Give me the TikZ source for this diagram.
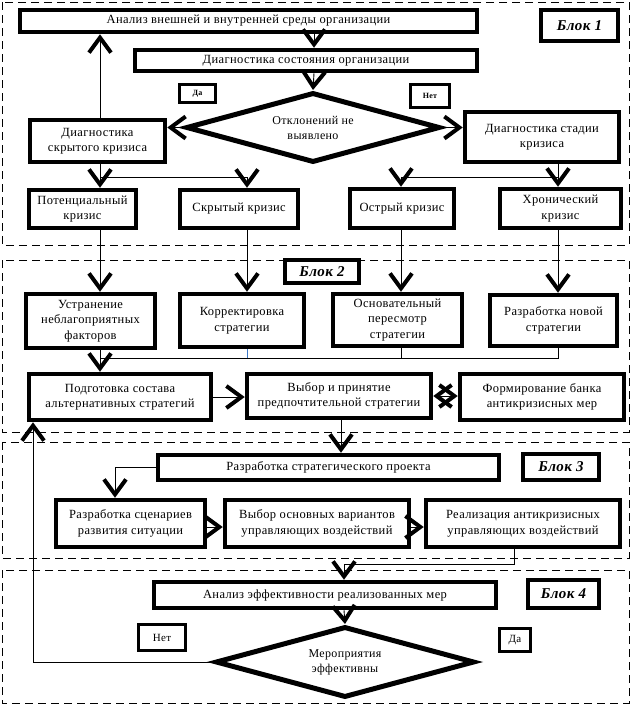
\documentclass[tikz,border=0pt]{standalone}
\usepackage{fontspec}
\setmainfont{Liberation Serif}[LetterSpace=3]
\usetikzlibrary{arrows.meta,shapes.geometric,calc}
\newcommand\fnt{\fontsize{12.5}{15.5}\selectfont}
\newcommand\fdia{\fontsize{12}{15}\selectfont}
\newcommand\fblk{\fontsize{15}{18}\selectfont\bfseries\itshape}
\newcommand\ftiny{\fontsize{8}{9}\selectfont\bfseries}
\newcommand\fsmall{\fontsize{11}{13}\selectfont}
\tikzset{
  box/.style={draw, line width=4.5pt, align=center, inner sep=1pt, font=\fnt},
  blkbox/.style={draw, line width=4.5pt, align=center, inner sep=1pt, font=\fblk},
  tagbox/.style={draw, line width=3.5pt, align=center, inner sep=1pt},
  dia/.style={draw, diamond, aspect=3.5, line width=5pt, align=center, inner sep=0pt, font=\fdia},
  blk/.style={draw, line width=0.8pt, dash pattern=on 8pt off 5pt},
  vtip/.tip={Straight Barb[length=15pt, width=22pt, line width=4pt]},
  arr/.style={line width=0.9pt, -vtip},
  arrboth/.style={line width=0.9pt, vtip-vtip},
  conn/.style={line width=0.9pt},
}
\begin{document}
\begin{tikzpicture}[x=1pt,y=-1pt]
\fill[white] (0,0) rectangle (632,710);
\useasboundingbox (0,0) rectangle (632,710);
% block frames
\draw[blk] (2,2) rectangle (629,245);
\draw[blk] (2,260) rectangle (629,432);
\draw[blk] (2,442) rectangle (629,558);
\draw[blk] (2,570) rectangle (629,703);
% column coordinates
\coordinate (col1) at (100,0);
\coordinate (col2) at (247,0);
\coordinate (col3) at (401,0);
\coordinate (col4) at (558,0);
\coordinate (colM) at (314,0);
\coordinate (col5) at (341,0);
\coordinate (colS) at (115,0);
\coordinate (colR) at (514,0);
\coordinate (colE) at (344,0);
\coordinate (colL) at (33,0);
% Block 1
\node[box, minimum width=457pt, minimum height=22pt] (A) at (248.5,21) {Анализ внешней и внутренней среды организации};
\node[blkbox, minimum width=77pt, minimum height=31pt] (Bl1) at (579.5,25.5) {Блок 1};
\node[box, minimum width=342pt, minimum height=21pt] (B) at (306,60.5) {Диагностика состояния организации};
\node[tagbox, minimum width=36pt, minimum height=18pt, font=\ftiny] (Da1) at (197.5,93.5) {Да};
\node[tagbox, minimum width=39pt, minimum height=23pt, font=\ftiny] (Net1) at (430,96) {Нет};
\node[dia, minimum width=254pt, minimum height=70pt] (D1) at (313,127.5) {Отклонений не\\выявлено};
\node[box, minimum width=135pt, minimum height=42pt] (C) at (97.5,141) {Диагностика\\скрытого кризиса};
\node[box, minimum width=154pt, minimum height=50pt] (D) at (542,137) {Диагностика стадии\\кризиса};
\node[box, minimum width=107pt, minimum height=38pt] (Pot) at (82.5,209) {Потенциальный\\кризис};
\node[box, minimum width=118pt, minimum height=38pt] (Skr) at (239,209) {Скрытый кризис};
\node[box, minimum width=104pt, minimum height=39pt] (Ostr) at (402,208.5) {Острый кризис};
\node[box, minimum width=121pt, minimum height=39pt] (Hron) at (560.5,208.5) {Хронический\\кризис};
% Block 2
\node[blkbox, minimum width=74pt, minimum height=23pt] (Bl2) at (322,271.5) {Блок 2};
\node[box, minimum width=129pt, minimum height=54pt] (Ustr) at (90.5,321) {Устранение\\неблагоприятных\\факторов};
\node[box, minimum width=124pt, minimum height=53pt] (Korr) at (242,320.5) {Корректировка\\стратегии};
\node[box, minimum width=129pt, minimum height=52pt] (Osn) at (397.5,320) {Основательный\\пересмотр\\стратегии};
\node[box, minimum width=127pt, minimum height=51pt] (Nov) at (553.5,320.5) {Разработка новой\\стратегии};
\node[box, minimum width=182pt, minimum height=46pt] (Podg) at (120,397) {Подготовка состава\\альтернативных стратегий};
\node[box, minimum width=184pt, minimum height=44pt] (Vyb) at (339,396) {Выбор и принятие\\предпочтительной стратегии};
\node[box, minimum width=164pt, minimum height=46pt] (Form) at (542,397) {Формирование банка\\антикризисных мер};
% Block 3
\node[box, minimum width=341pt, minimum height=25pt] (Strat) at (328.5,467.5) {Разработка стратегического проекта};
\node[blkbox, minimum width=76pt, minimum height=26pt] (Bl3) at (561,467) {Блок 3};
\node[box, minimum width=149pt, minimum height=47pt] (Scen) at (130.5,523.5) {Разработка сценариев\\развития ситуации};
\node[box, minimum width=184pt, minimum height=47pt] (VybO) at (317,523.5) {Выбор основных вариантов\\управляющих воздействий};
\node[box, minimum width=194pt, minimum height=47pt] (Real) at (523,523.5) {Реализация антикризисных\\управляющих воздействий};
% Block 4
\node[box, minimum width=342pt, minimum height=26pt] (AnEf) at (325,595) {Анализ эффективности реализованных мер};
\node[blkbox, minimum width=71pt, minimum height=28pt] (Bl4) at (563.5,594) {Блок 4};
\node[tagbox, minimum width=47pt, minimum height=26pt, font=\fsmall] (Net2) at (162,637.5) {Нет};
\node[tagbox, minimum width=31pt, minimum height=23pt, font=\fsmall] (Da2) at (515,640) {Да};
\node[dia, minimum width=259pt, minimum height=71pt] (D2) at (345,662) {Мероприятия\\эффективны};
% connectors block 1
\draw[arr] (A.south -| colM) -- (B.north -| colM);
\draw[arr] (B.south -| colM) -- (D1.north);
\draw[arr] (D1.west) -- (C.east |- D1.west);
\draw[arr] (D1.east) -- (D.west |- D1.east);
\draw[arr] (C.north -| col1) -- (A.south -| col1);
\draw[conn] (C.south -| col1) -- ++(0,13) coordinate (c1) -- (c1 -| col2);
\draw[arr] (c1) -- (Pot.north -| col1);
\draw[arr] (c1 -| col2) -- (Skr.north -| col2);
\draw[conn] (D.south -| col4) -- ++(0,13) coordinate (d1) -- (d1 -| col3);
\draw[arr] (d1) -- (Hron.north -| col4);
\draw[arr] (d1 -| col3) -- (Ostr.north -| col3);
% block 1 -> block 2
\draw[arr] (Pot.south -| col1) -- (Ustr.north -| col1);
\draw[arr] (Skr.south -| col2) -- (Korr.north -| col2);
\draw[arr] (Ostr.south -| col3) -- (Osn.north -| col3);
\draw[arr] (Hron.south -| col4) -- (Nov.north -| col4);
% block 2
\draw[arr] (Ustr.south -| col1) -- (Podg.north -| col1);
\draw[conn] (Nov.south -| col4) -- ++(0,10) coordinate (h4) -- (h4 -| col1);
\draw[conn] (Osn.south -| col3) -- (h4 -| col3);
\draw[conn, draw={rgb,255:red,60;green,120;blue,200}] (Korr.south -| col2) -- (h4 -| col2);
\draw[arr] (Podg.east) -- (Vyb.west |- Podg.east);
\draw[arrboth] (Vyb.east) -- (Form.west |- Vyb.east);
\draw[arr] (Vyb.south -| col5) -- (Strat.north -| col5);
% block 3
\draw[arr] (Strat.west) -| (Scen.north -| colS);
\draw[arr] ([yshift=-3.5pt]Scen.east) -- ([yshift=-3.5pt]VybO.west);
\draw[arr] ([yshift=-3.5pt]VybO.east) -- ([yshift=-3.5pt]Real.west);
\draw[arr] (Real.south -| colR) -- ++(0,15) coordinate (r1) -| (AnEf.north -| colE);
% block 4
\draw[arr] (AnEf.south -| colE) -- (D2.north);
\draw[arr] (D2.west) -| (Podg.south -| colL);
\end{tikzpicture}
\end{document}
